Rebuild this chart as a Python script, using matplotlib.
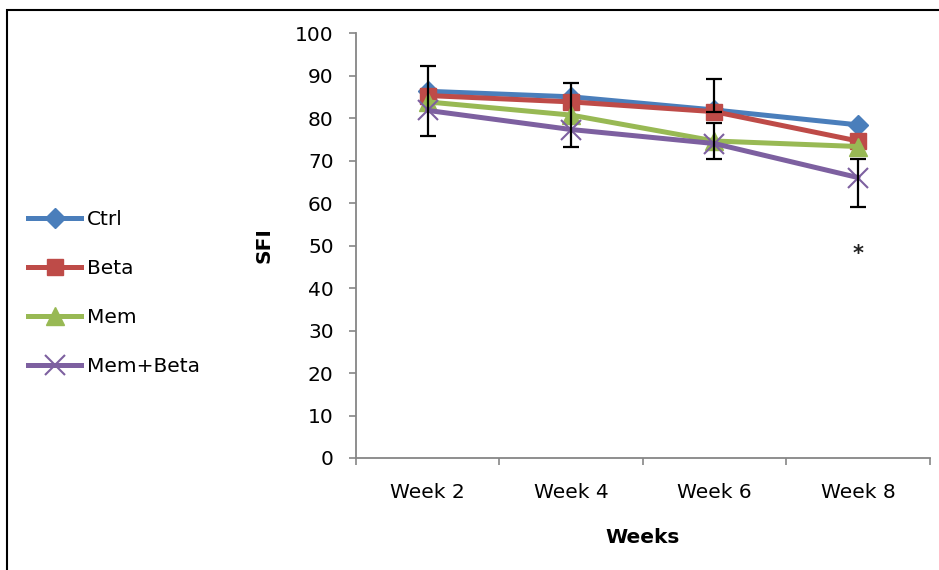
import matplotlib
matplotlib.use("Agg")
import matplotlib.pyplot as plt
import numpy as np

# datos
weeks = ["Week 2", "Week 4", "Week 6", "Week 8"]
ctrl = [86.3, 85.0, 81.9, 78.4]
beta = [85.3, 83.8, 81.5, 74.6]
mem = [83.8, 80.7, 74.6, 73.3]
mem_beta = [81.8, 77.3, 74.0, 66.0]

# barras de error visibles (abajo, arriba); 0 = sin barra
beta_err = [[0, 0, 0, 0], [0, 0, 7.6, 0]]
mem_err = [[8.0, 7.4, 4.3, 0], [8.4, 7.6, 4.3, 0]]
mem_beta_err = [[0, 0, 0, 7.0], [0, 0, 0, 4.3]]

star_week = 3
star_value = 48.0

colors = ["#4A7EBB", "#BE4B48", "#98B954", "#7D60A0"]
fs = 14.5

fig = plt.figure(figsize=(9.39, 5.7), dpi=100)
ax = fig.add_axes([0.379, 0.1965, 0.611, 0.7455])

x = np.arange(len(weeks))

series = [
    ("Ctrl", ctrl, "D", 10, None),
    ("Beta", beta, "s", 12, beta_err),
    ("Mem", mem, "^", 13, mem_err),
    ("Mem+Beta", mem_beta, "x", 15, mem_beta_err),
]

handles = []
for (name, vals, mk, ms, err), c in zip(series, colors):
    vals = np.array(vals)
    ln, = ax.plot(x, vals, color=c, lw=3.6, marker=mk, markersize=ms,
                  markeredgewidth=1.5 if mk == "x" else 1, markeredgecolor=c,
                  markerfacecolor=c, label=name, zorder=2)
    handles.append(ln)
    if err is not None:
        err = np.array(err, dtype=float)
        m = (err[0] > 0) | (err[1] > 0)
        ax.errorbar(x[m], vals[m], yerr=err[:, m], fmt="none", ecolor="black",
                    elinewidth=1.6, capsize=6, capthick=1.6, zorder=3)

ax.text(x[star_week], star_value, "*", ha="center", va="center",
        fontsize=15, fontweight="bold", color="#222222")

ax.set_xlim(-0.5, len(weeks) - 0.5)
ax.set_ylim(0, 100)
ax.set_yticks(np.arange(0, 101, 10))
ax.set_xticks(x)
ax.set_xticklabels(weeks)
ax.set_xticks(np.arange(-0.5, len(weeks)), minor=True)

for s in ["top", "right"]:
    ax.spines[s].set_visible(False)
for s in ["left", "bottom"]:
    ax.spines[s].set_color("#868686")
    ax.spines[s].set_linewidth(1.3)

ax.tick_params(axis="y", length=5, width=1.2, color="#868686", labelsize=fs, pad=11)
ax.tick_params(axis="x", which="major", length=0, labelsize=fs, pad=18)
ax.tick_params(axis="x", which="minor", length=5, width=1.2, color="#868686")

ax.set_ylabel("SFI", fontsize=fs, fontweight="bold")
ax.yaxis.set_label_coords(-0.143, 0.5)
ax.set_xlabel("Weeks", fontsize=fs, fontweight="bold")
ax.xaxis.set_label_coords(0.5, -0.164)

fig.legend(handles=handles, loc="upper left", bbox_to_anchor=(0.011, 0.664),
           frameon=False, fontsize=fs, handlelength=2.6, labelspacing=1.5,
           handletextpad=0.3)

# marco exterior
fig.patches.append(plt.Rectangle((7 / 939, -0.1), 1.2, (570 - 10) / 570 + 0.1,
                                 transform=fig.transFigure, fill=False,
                                 edgecolor="black", linewidth=1.5))

fig.savefig("out.png", dpi=100)
